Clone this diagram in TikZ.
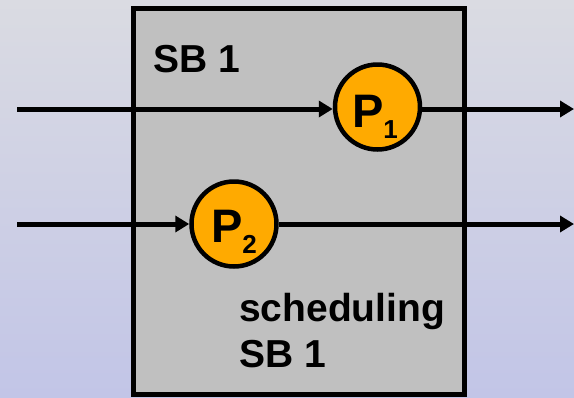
\documentclass[tikz,border=0pt]{standalone}
\usepackage{fontspec}
\setmainfont{Liberation Sans}
\usetikzlibrary{arrows.meta}
\definecolor{bgtop}{HTML}{DADBE2}
\definecolor{bgbot}{HTML}{C2C5E7}
\definecolor{sbgray}{HTML}{C0C0C0}
\definecolor{procfill}{HTML}{FFAA00}
\begin{document}
\begin{tikzpicture}[x=1pt,y=-1pt,
  sbbox/.style={draw=black, line width=5pt, fill=sbgray},
  proc/.style={circle, draw=black, line width=4.5pt, fill=procfill,
    minimum size=85pt, inner sep=0pt},
  plabel/.style={inner sep=0pt, anchor=base, font=\bfseries\fontsize{47}{47}\selectfont},
  flow/.style={draw=black, line width=5pt, -{Triangle[length=14pt,width=16pt]}},
  caption/.style={inner sep=0pt, anchor=base west, align=left,
    font=\bfseries\fontsize{39}{46}\selectfont}
]
% background
\fill[top color=bgtop, bottom color=bgbot] (0,0) rectangle (574,397);
\useasboundingbox (0,0) rectangle (574,397);

% scheduling block
\draw[sbbox] (133,8.5) rectangle (464,394);
\node[caption] (sbname) at (153,72) {SB 1};
\node[caption] (sched) at (239,367) {scheduling\\SB 1};

% processes
\node[proc] (p1) at (377.5,107) {};
\node[proc] (p2) at (234,224) {};
\node[plabel] (p1l) at (375,127) {P\raisebox{-11pt}{\bfseries\fontsize{26}{26}\selectfont 1}};
\node[plabel] (p2l) at (234,242) {P\raisebox{-11pt}{\bfseries\fontsize{26}{26}\selectfont 2}};

% signal flow
\coordinate (in1) at (17,109);
\coordinate (in2) at (17,224);
\coordinate (out1) at (574,109);
\coordinate (out2) at (574,224);
\draw[flow] (in1) -- (p1.west |- in1);
\draw[flow] (p1.east |- out1) -- (out1);
\draw[flow] (in2) -- (p2.west);
\draw[flow] (p2.east) -- (out2);
\end{tikzpicture}
\end{document}
